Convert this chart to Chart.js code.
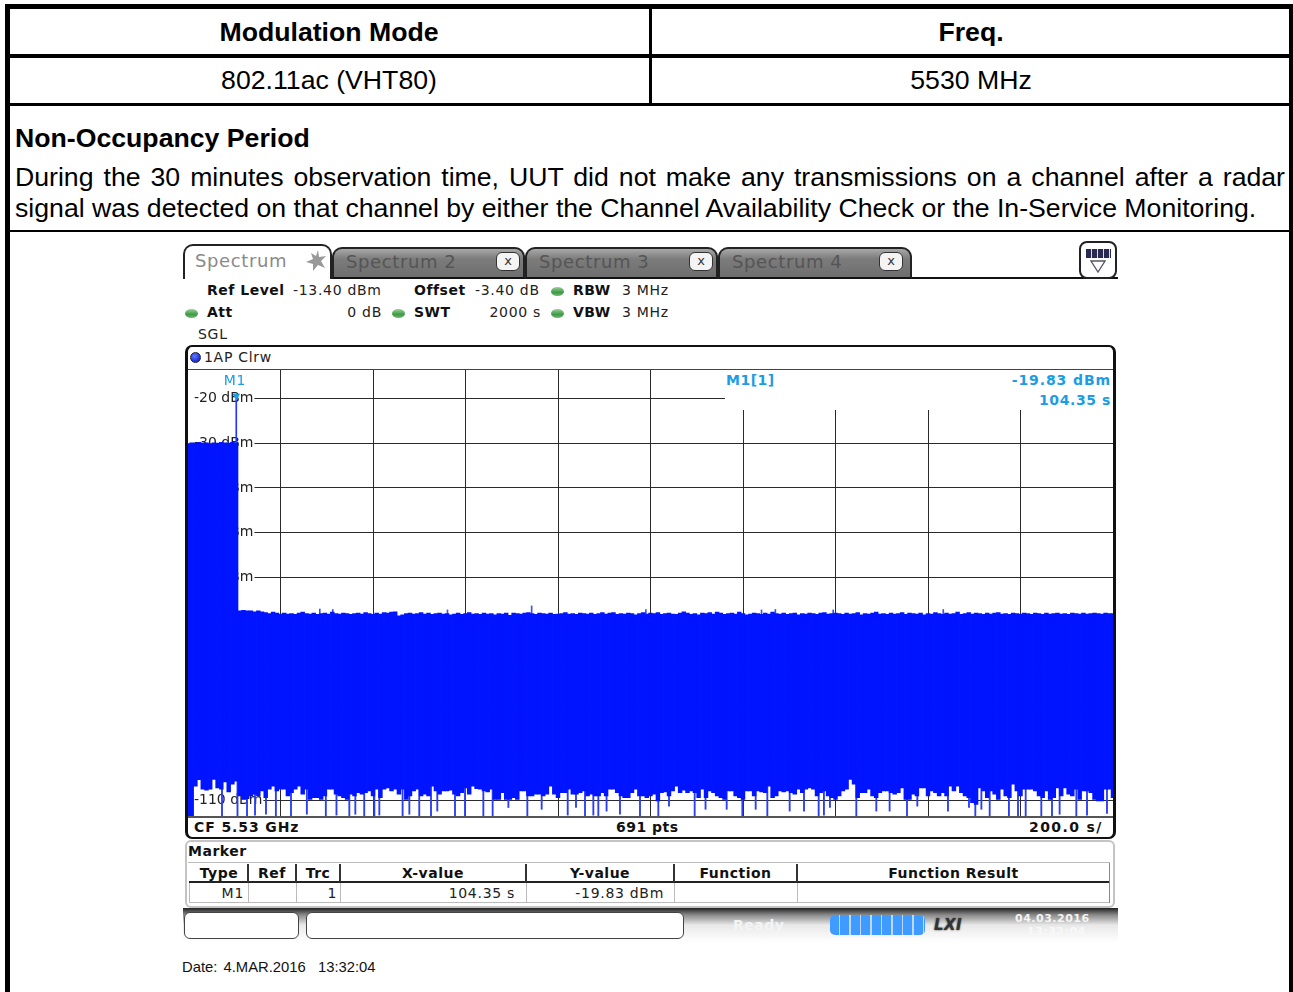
<!DOCTYPE html>
<html>
<head>
<meta charset="utf-8">
<title>Non-Occupancy Period</title>
<script src="https://cdn.jsdelivr.net/npm/chart.js@4/dist/chart.umd.min.js"></script>
<style>
html, body { margin: 0; padding: 0; background: #fff; }
body { position: relative; width: 1293px; height: 992px; overflow: hidden; font-family: "Liberation Sans", Arial, sans-serif; color: #000; }
.box { position: absolute; box-sizing: border-box; }
.t { position: absolute; white-space: nowrap; line-height: 20px; height: 20px; font-family: "DejaVu Sans", sans-serif; font-size: 14px; letter-spacing: 0.7px; color: #222; }
.b { font-weight: bold; color: #111; letter-spacing: 0.5px; }
.r { text-align: right; }
.c { text-align: center; }
.cell { position: absolute; font-size: 26.67px; line-height: 30px; height: 30px; text-align: center; white-space: nowrap; }
.para { position: absolute; left: 15px; width: 1270px; font-size: 26.67px; line-height: 31px; text-align: justify; text-align-last: justify; white-space: normal; }
.tab { position: absolute; top: 247px; height: 32px; box-sizing: border-box; border: 2px solid #222; border-bottom: 2px solid #111; border-radius: 10px 10px 0 0; background: linear-gradient(#a8a8a8, #7c7c7c 35%, #6e6e6e); }
.tabtxt { position: absolute; top: 252px; font-family: "DejaVu Sans", sans-serif; font-size: 18px; letter-spacing: 0.6px; line-height: 20px; color: #555; white-space: nowrap; }
.x { position: absolute; top: 252px; width: 24px; height: 19px; box-sizing: border-box; border-radius: 6px; background: #f4f4f4; border: 1px solid #333; font-family: "DejaVu Sans", sans-serif; font-size: 13px; line-height: 16px; text-align: center; color: #333; }
.dot { position: absolute; width: 13px; height: 9px; border-radius: 50%; background: linear-gradient(#9cd09c, #3f9a45 60%, #6fb872); }
.vs { position: absolute; width: 2px; background: #333; }
.vg { position: absolute; width: 1px; background: #bbb; }
</style>
</head>
<body>

<!-- page frame and top table -->
<div class="box" style="left:5px;top:4px;width:1288px;height:1000px;border:solid #000;border-width:5px 4px 0 5px;"></div>
<div class="box" style="left:10px;top:54px;width:1280px;height:4px;background:#000;"></div>
<div class="box" style="left:10px;top:103px;width:1280px;height:3px;background:#000;"></div>
<div class="box" style="left:649px;top:9px;width:3px;height:95px;background:#000;"></div>
<div class="box" style="left:10px;top:230px;width:1280px;height:2px;background:#000;"></div>
<div class="cell" style="left:9px;width:640px;top:17px;font-weight:bold;">Modulation Mode</div>
<div class="cell" style="left:651px;width:640px;top:17px;font-weight:bold;">Freq.</div>
<div class="cell" style="left:9px;width:640px;top:65px;">802.11ac (VHT80)</div>
<div class="cell" style="left:651px;width:640px;top:65px;">5530 MHz</div>
<div class="para" style="top:123px;font-weight:bold;text-align-last:left;">Non-Occupancy Period</div>
<div class="para" style="top:162px;">During the 30 minutes observation time, UUT did not make any transmissions on a channel after a radar</div>
<div class="para" style="top:193px;text-align-last:left;">signal was detected on that channel by either the Channel Availability Check or the In-Service Monitoring.</div>

<!-- instrument tabs -->
<div class="box" style="left:183px;top:277px;width:935px;height:2px;background:#111;"></div>
<div class="box" style="left:183px;top:244px;width:149px;height:35px;background:#fff;border:2px solid #222;border-bottom:none;border-radius:10px 10px 0 0;"></div>
<div class="tabtxt" style="left:195px;top:251px;color:#8a8a8a;">Spectrum</div>
<svg class="box" style="left:303px;top:249px;" width="24" height="24" viewBox="0 0 24 24"><polygon points="15,1 16,8 23,7 18,12 22,19 15,16 10,22 10,15 3,13 10,10 8,4 13,7" fill="#999"/></svg>
<div class="tab" style="left:332px;width:193px;"></div>
<div class="tab" style="left:525px;width:193px;"></div>
<div class="tab" style="left:718px;width:194px;"></div>
<div class="tabtxt" style="left:346px;">Spectrum 2</div>
<div class="tabtxt" style="left:539px;">Spectrum 3</div>
<div class="tabtxt" style="left:732px;">Spectrum 4</div>
<div class="x" style="left:496px;">x</div>
<div class="x" style="left:689px;">x</div>
<div class="x" style="left:879px;">x</div>
<div class="box" style="left:1079px;top:241px;width:38px;height:38px;border:2px solid #222;border-radius:8px;background:#fff;"></div>
<div class="box" style="left:1086px;top:249px;width:25px;height:9px;background:repeating-linear-gradient(90deg,#2a2a50 0,#2a2a50 5px,#ddd 5px,#ddd 6px);"></div>
<svg class="box" style="left:1090px;top:260px;" width="16" height="13" viewBox="0 0 16 13"><polygon points="1,1 15,1 8,12" fill="#fff" stroke="#556" stroke-width="1.3"/></svg>

<!-- settings header -->
<div class="t b" style="left:207px;top:280px;">Ref Level</div>
<div class="t" style="left:293px;top:280px;">-13.40 dBm</div>
<div class="t b" style="left:414px;top:280px;">Offset</div>
<div class="t" style="left:475px;top:280px;">-3.40 dB</div>
<div class="dot" style="left:551px;top:287px;"></div>
<div class="t b" style="left:573px;top:280px;">RBW</div>
<div class="t" style="left:622px;top:280px;">3 MHz</div>
<div class="dot" style="left:185px;top:309px;"></div>
<div class="t b" style="left:207px;top:302px;">Att</div>
<div class="t r" style="left:300px;width:82px;top:302px;">0 dB</div>
<div class="dot" style="left:392px;top:309px;"></div>
<div class="t b" style="left:414px;top:302px;">SWT</div>
<div class="t r" style="left:460px;width:81px;top:302px;">2000 s</div>
<div class="dot" style="left:551px;top:309px;"></div>
<div class="t b" style="left:573px;top:302px;">VBW</div>
<div class="t" style="left:622px;top:302px;">3 MHz</div>
<div class="t" style="left:198px;top:324px;">SGL</div>

<!-- plot panel -->
<div class="box" style="left:185px;top:345px;width:931px;height:494px;border:2px solid #111;border-left-width:3px;border-right-width:3px;border-radius:7px;background:#fff;"></div>
<div class="box" style="left:190px;top:352px;width:11px;height:11px;border-radius:50%;background:radial-gradient(circle at 40% 35%,#6078ff,#1a2cd8 70%);border:1px solid #223;"></div>
<div class="t" style="left:204px;top:347px;">1AP Clrw</div>
<canvas id="trace" width="925" height="447" style="position:absolute;left:188px;top:369px;"></canvas>
<div class="box" style="left:188px;top:369px;width:925px;height:1px;background:#444;"></div>
<div class="box" style="left:188px;top:816px;width:925px;height:2px;background:#555;"></div>
<div class="box" style="left:725px;top:370px;width:388px;height:40px;background:#fff;"></div>
<div class="t c" style="left:215px;width:40px;top:370px;color:#1c9ce6;">M1</div>
<div class="t b" style="left:726px;top:370px;color:#1c9ce6;">M1[1]</div>
<div class="t b r" style="left:960px;width:151px;top:370px;color:#1c9ce6;letter-spacing:0.9px;">-19.83 dBm</div>
<div class="t b r" style="left:960px;width:151px;top:390px;color:#1c9ce6;letter-spacing:0.6px;">104.35 s</div>
<div class="t b" style="left:194px;top:817px;letter-spacing:0.9px;">CF 5.53 GHz</div>
<div class="t b" style="left:616px;top:817px;">691 pts</div>
<div class="t b" style="left:1029px;top:817px;letter-spacing:1.4px;">200.0 s/</div>

<!-- marker table -->
<div class="box" style="left:185px;top:840px;width:930px;height:68px;border:2px solid #c4c4c4;border-radius:6px;background:#fff;"></div>
<div class="t b" style="left:188px;top:841px;">Marker</div>
<div class="box" style="left:188px;top:862px;width:922px;height:1px;background:#bbb;"></div>
<div class="box" style="left:189px;top:881px;width:921px;height:2px;background:#222;"></div>
<div class="box" style="left:189px;top:902px;width:921px;height:1px;background:#bbb;"></div>
<div class="box" style="left:189px;top:883px;width:1px;height:20px;background:#bbb;"></div>
<div class="box" style="left:1109px;top:863px;width:1px;height:40px;background:#888;"></div>
<div class="vs" style="left:247px;top:864px;height:18px;"></div>
<div class="vs" style="left:295px;top:864px;height:18px;"></div>
<div class="vs" style="left:339px;top:864px;height:18px;"></div>
<div class="vs" style="left:525px;top:864px;height:18px;"></div>
<div class="vs" style="left:673px;top:864px;height:18px;"></div>
<div class="vs" style="left:796px;top:864px;height:18px;"></div>
<div class="vg" style="left:248px;top:883px;height:19px;"></div>
<div class="vg" style="left:296px;top:883px;height:19px;"></div>
<div class="vg" style="left:340px;top:883px;height:19px;"></div>
<div class="vg" style="left:526px;top:883px;height:19px;"></div>
<div class="vg" style="left:674px;top:883px;height:19px;"></div>
<div class="vg" style="left:797px;top:883px;height:19px;"></div>
<div class="t b c" style="left:190px;width:58px;top:863px;">Type</div>
<div class="t b c" style="left:248px;width:48px;top:863px;">Ref</div>
<div class="t b c" style="left:296px;width:44px;top:863px;">Trc</div>
<div class="t b c" style="left:340px;width:186px;top:863px;">X-value</div>
<div class="t b c" style="left:526px;width:148px;top:863px;">Y-value</div>
<div class="t b c" style="left:674px;width:123px;top:863px;">Function</div>
<div class="t b c" style="left:797px;width:313px;top:863px;">Function Result</div>
<div class="t r" style="left:190px;width:54px;top:883px;">M1</div>
<div class="t r" style="left:296px;width:41px;top:883px;">1</div>
<div class="t r" style="left:340px;width:175px;top:883px;">104.35 s</div>
<div class="t r" style="left:526px;width:138px;top:883px;">-19.83 dBm</div>

<!-- status bar -->
<div class="box" style="left:183px;top:908px;width:935px;height:34px;background:linear-gradient(#222,#888 20%,#e8e8e8 50%,#fff);"></div>
<div class="box" style="left:184px;top:912px;width:115px;height:27px;background:#fff;border:1px solid #444;border-radius:6px;"></div>
<div class="box" style="left:306px;top:912px;width:378px;height:27px;background:#fff;border:1px solid #444;border-radius:6px;"></div>
<div class="t b" style="left:733px;top:915px;color:#f4f4f4;">Ready</div>
<div class="box" style="left:830px;top:915px;width:95px;height:20px;border-radius:5px;background:repeating-linear-gradient(90deg,#3f9bff 0,#3f9bff 9px,#bcd9ff 9px,#bcd9ff 10.5px);"></div>
<div class="t b" style="left:934px;top:915px;font-style:italic;font-size:15px;color:#333;text-shadow:0 0 2px #333;">LXI</div>
<div class="t b" style="left:1015px;top:909px;font-size:11px;color:#f4f4f4;">04.03.2016</div>
<div class="t b" style="left:1027px;top:922px;font-size:11px;color:#f8f8f8;">13:32:04</div>
<div class="t" style="left:182px;top:957px;font-family:'Liberation Sans',Arial,sans-serif;font-size:14.8px;letter-spacing:0;word-spacing:2px;color:#111;">Date: 4.MAR.2016&nbsp; 13:32:04</div>

<script>
// sweep samples: time (s), lower and upper end of the trace swing (dBm)
const traceTimes = [
    0, 8, 16, 24, 32, 40, 48, 56, 64, 72, 80, 88, 96, 104, 112, 120, 128, 136, 144, 152,
    160, 168, 176, 184, 192, 200, 208, 216, 224, 232, 240, 248, 256, 264, 272, 280, 288, 296, 304, 312,
    320, 328, 336, 344, 352, 360, 368, 376, 384, 392, 400, 408, 416, 424, 432, 440, 448, 456, 464, 472,
    480, 488, 496, 504, 512, 520, 528, 536, 544, 552, 560, 568, 576, 584, 592, 600, 608, 616, 624, 632,
    640, 648, 656, 664, 672, 680, 688, 696, 704, 712, 720, 728, 736, 744, 752, 760, 768, 776, 784, 792,
    800, 808, 816, 824, 832, 840, 848, 856, 864, 872, 880, 888, 896, 904, 912, 920, 928, 936, 944, 952,
    960, 968, 976, 984, 992, 1000, 1008, 1016, 1024, 1032, 1040, 1048, 1056, 1064, 1072, 1080, 1088, 1096, 1104, 1112,
    1120, 1128, 1136, 1144, 1152, 1160, 1168, 1176, 1184, 1192, 1200, 1208, 1216, 1224, 1232, 1240, 1248, 1256, 1264, 1272,
    1280, 1288, 1296, 1304, 1312, 1320, 1328, 1336, 1344, 1352, 1360, 1368, 1376, 1384, 1392, 1400, 1408, 1416, 1424, 1432,
    1440, 1448, 1456, 1464, 1472, 1480, 1488, 1496, 1504, 1512, 1520, 1528, 1536, 1544, 1552, 1560, 1568, 1576, 1584, 1592,
    1600, 1608, 1616, 1624, 1632, 1640, 1648, 1656, 1664, 1672, 1680, 1688, 1696, 1704, 1712, 1720, 1728, 1736, 1744, 1752,
    1760, 1768, 1776, 1784, 1792, 1800, 1808, 1816, 1824, 1832, 1840, 1848, 1856, 1864, 1872, 1880, 1888, 1896, 1904, 1912,
    1920, 1928, 1936, 1944, 1952, 1960, 1968, 1976, 1984, 1992, 2000
];
const traceHigh = [
    -30.1, -29.9, -30.0, -29.8, -30.0, -29.9, -30.1, -29.9, -30.0, -29.8,
    -29.9, -30.0, -29.8, -29.9, -67.5, -67.4, -67.5, -67.5, -67.7, -67.5,
    -67.7, -67.9, -68.1, -67.8, -68.0, -68.2, -68.0, -68.2, -68.1, -68.3,
    -68.0, -67.8, -68.1, -68.2, -68.0, -68.3, -68.1, -68.0, -68.2, -67.8,
    -68.1, -68.2, -68.0, -68.1, -68.3, -68.1, -68.0, -68.2, -67.9, -68.1,
    -68.3, -68.0, -68.2, -67.9, -68.0, -67.8, -67.7, -68.6, -68.4, -68.1,
    -68.0, -68.2, -68.1, -67.9, -68.2, -68.0, -68.3, -68.1, -68.0, -68.2,
    -68.1, -68.4, -68.2, -68.0, -68.3, -68.1, -67.9, -68.2, -68.1, -68.3,
    -68.0, -68.2, -68.1, -68.4, -68.1, -68.2, -68.0, -68.5, -68.0, -68.1,
    -68.2, -68.0, -67.9, -68.1, -68.3, -68.0, -68.1, -68.2, -68.0, -68.3,
    -68.2, -68.1, -67.9, -68.2, -68.1, -68.3, -68.0, -68.1, -68.2, -68.0,
    -68.3, -68.1, -67.9, -68.2, -68.0, -67.9, -68.3, -68.1, -68.2, -68.0,
    -68.1, -68.4, -68.1, -67.9, -68.2, -68.0, -68.1, -67.9, -68.3, -68.1,
    -68.0, -68.2, -68.3, -68.0, -67.7, -68.0, -68.3, -68.1, -68.4, -68.0,
    -68.1, -67.9, -68.2, -67.8, -68.0, -68.3, -68.1, -68.0, -68.2, -67.8,
    -68.1, -68.4, -68.2, -68.0, -68.1, -68.3, -68.0, -68.2, -67.8, -68.1,
    -68.2, -68.0, -68.3, -68.1, -68.0, -68.4, -68.1, -68.2, -68.0, -68.1,
    -68.3, -68.0, -67.9, -68.2, -68.1, -68.0, -68.1, -68.3, -68.0, -68.2,
    -68.1, -67.9, -68.4, -68.1, -68.2, -68.0, -67.8, -68.2, -68.1, -68.3,
    -68.0, -68.2, -68.1, -67.9, -68.3, -68.0, -68.1, -68.2, -68.0, -68.4,
    -68.1, -68.2, -67.9, -68.1, -68.3, -68.0, -68.2, -68.1, -67.8, -68.3,
    -68.1, -67.9, -68.2, -68.0, -68.1, -68.3, -68.0, -68.2, -68.0, -67.9,
    -68.2, -68.1, -68.3, -68.0, -68.1, -68.2, -68.0, -68.1, -68.3, -68.0,
    -68.1, -68.3, -68.0, -68.2, -68.1, -68.0, -68.2, -68.1, -68.3, -68.0,
    -68.1, -68.2, -68.0, -68.2, -68.1, -68.0, -68.1, -68.2, -68.0, -68.1,
    -68.1
];
const traceLow = [
    -113.4, -113.4, -106.7, -105.3, -107.4, -107.6, -107.4, -105.2, -107.1, -107.4,
    -105.8, -108.0, -106.3, -105.6, -108.9, -109.7, -109.5, -108.9, -108.5, -108.9,
    -107.8, -109.3, -107.4, -106.7, -107.8, -107.4, -107.4, -108.9, -108.2, -107.4,
    -106.7, -108.5, -107.4, -109.7, -109.3, -109.3, -109.7, -108.9, -107.4, -107.4,
    -108.5, -108.9, -109.3, -109.7, -108.5, -108.9, -108.2, -108.5, -108.2, -107.8,
    -108.9, -107.4, -109.3, -107.4, -107.1, -107.8, -107.4, -108.5, -107.4, -109.7,
    -108.9, -107.8, -107.4, -108.9,
    -108.5, -108.9, -106.7, -107.8, -108.5, -107.8, -107.8, -107.6, -108.5, -108.9,
    -108.2, -107.1, -108.5, -106.7, -107.3, -107.4, -107.8, -108.0, -107.4, -109.7,
    -109.7, -108.2, -109.7, -109.7, -109.3, -109.7, -107.8, -107.8, -108.9, -108.9,
    -108.5, -108.5, -108.9, -108.5, -106.7, -108.5, -109.3, -108.2, -108.2, -107.4,
    -108.5, -108.5, -108.2, -107.8, -108.9, -108.5, -108.9, -108.9, -108.2, -108.9,
    -107.4, -107.4, -108.2, -108.9, -109.3, -109.3, -108.2, -107.4, -108.9, -108.9,
    -109.3, -108.9, -108.5,
    -110.0, -108.2, -108.0, -108.9, -107.8, -106.7, -108.2, -107.6, -108.2, -107.8,
    -108.2, -109.3, -107.4, -109.3, -107.8, -108.2, -108.9, -109.3, -109.7, -107.8,
    -107.8, -108.9, -109.3, -109.7, -107.8, -107.8, -108.9, -107.8, -108.0, -108.2,
    -106.7, -109.3, -108.9, -107.8, -108.0, -107.8, -108.2, -108.5, -107.4, -108.2,
    -107.4, -107.1, -107.4, -108.9, -108.2, -107.8, -108.9, -109.3, -109.7, -108.9,
    -107.8, -107.4, -105.2, -106.3, -109.3, -108.2, -108.2, -107.4, -108.9, -109.3,
    -108.2, -107.8, -107.8, -108.2,
    -108.5, -108.2, -107.1, -109.7, -109.7, -108.5, -108.9, -107.1, -107.1, -108.9,
    -107.8, -108.2, -108.9, -108.2, -108.9, -106.7, -107.8, -106.7, -108.2, -108.9,
    -109.3, -110.4, -110.8, -107.1, -107.8, -109.3, -107.8, -108.5, -109.7, -107.4,
    -108.9, -109.3, -106.3, -107.8, -108.9, -107.4, -107.4, -107.4, -107.8, -108.9,
    -109.3, -107.8, -109.7, -109.3, -107.1, -108.9, -107.1, -108.5, -108.9, -107.4,
    -109.7, -107.8, -107.8, -108.2, -109.7, -110.0, -110.0, -107.4, -107.4, -109.3
];

// single narrow dips of the trace below the solid band
const dipTimes = [
    73.5, 107, 127.6, 144.9, 168.6, 190, 222.7, 257, 298, 321, 348.8, 361.8, 381, 402.9, 413.7, 464, 478.6, 500,
    525.4, 539, 577.3, 598.9, 638.6, 658.7, 692.7, 733.7, 764.7, 821, 838.9, 858.4, 876.4, 887.2, 905, 934, 977.3,
    1016.9, 1040, 1095.5, 1119, 1164.7, 1198.6, 1227.4, 1252.6, 1300.9, 1331.9, 1363.6, 1375, 1388, 1445, 1488.2,
    1517, 1554.6, 1576.9, 1643.2, 1688.6, 1702.3, 1715.4, 1733.4, 1775, 1794.6, 1811.2, 1845, 1868.1, 1884.6, 1920.7, 1943.8, 1987
];
const dipLevels = [
    -113.4, -113.4, -113.4, -113.2, -113.0, -113.4, -113.4, -113.0, -113.4, -113.2, -113.4, -113.0, -113.4, -113.4, -113.2, -113.4, -113.0, -113.4,
    -113.4, -112.3, -113.4, -113.4, -113.4, -113.4, -111.5, -113.4, -111.9, -113.2, -111.5, -113.4, -113.2, -113.4, -112.3, -113.0, -113.4,
    -113.4, -111.2, -113.4, -111.9, -111.9, -113.4, -111.9, -113.4, -112.3, -112.3, -113.4, -113.2, -111.5, -113.4, -112.3,
    -112.3, -113.4, -111.2, -112.3, -111.5, -113.4, -111.9, -113.4, -113.4, -113.4, -113.4, -113.4, -113.4, -113.0, -113.4, -113.2, -112.8
];

// single narrow peaks above the noise band
const peakTimes = [285, 313, 561, 743, 990, 1240, 1270, 1395, 1633];
const peakLevels = [-67.1, -67.2, -67.3, -66.4, -67.2, -67.3, -67.2, -67.3, -67.2];

const markerTimes = [104.35];
const markerLevels = [-19.83];
const markerBase = [-29.8];

const gridTimes = [200, 400, 600, 800, 1000, 1200, 1400, 1600, 1800];
const yTicks = [-20, -30, -40, -50, -60, -70, -80, -90, -100, -110];
const yLabels = ['-20 dBm', '-30 dBm', '-40 dBm', '-50 dBm', '-60 dBm', '-70 dBm', '-80 dBm', '-90 dBm', '-100 dBm', '-110 dBm'];

const traceColor = '#0014ff';
const gridColor = '#2a2a2a';

// the plot fills the canvas edge to edge, so drop the padding the scales ask for
function fillCanvas(scale) {
    scale.paddingTop = 0;
    scale.paddingBottom = 0;
    scale.paddingLeft = 0;
    scale.paddingRight = 0;
    if (scale.axis === 'y') {
        scale.width = 0;
    } else {
        scale.height = 0;
    }
}

new Chart(document.getElementById('trace').getContext('2d'), {
    type: 'bar',
    data: {
        datasets: [
            {
                type: 'scatter',
                label: 'M1',
                data: markerTimes.map((t, i) => ({ x: t, y: markerLevels[i] + 0.4 })),
                pointStyle: 'triangle',
                rotation: 180,
                pointRadius: 4.5,
                pointBorderWidth: 0,
                backgroundColor: '#1c9ce6',
                order: 1
            },
            {
                label: 'Trace',
                data: traceTimes.map((t, i) => ({ x: t, y: [traceLow[i], traceHigh[i]] })),
                backgroundColor: traceColor,
                barThickness: 3.8,
                order: 2
            },
            {
                label: 'Dips',
                data: dipTimes.map((t, i) => ({ x: t, y: [dipLevels[i], -104] })),
                backgroundColor: '#2a3ef4',
                barThickness: 1.2,
                order: 3
            },
            {
                label: 'Peaks',
                data: peakTimes.map((t, i) => ({ x: t, y: [-69, peakLevels[i]] })),
                backgroundColor: '#3a50f8',
                barThickness: 1,
                order: 3
            },
            {
                label: 'Marker line',
                data: markerTimes.map((t, i) => ({ x: t, y: [markerBase[i], markerLevels[i]] })),
                backgroundColor: '#2038ff',
                barThickness: 1,
                order: 3
            }
        ]
    },
    options: {
        responsive: false,
        animation: false,
        events: [],
        grouped: false,
        layout: { padding: 0, autoPadding: false },
        plugins: {
            legend: { display: false },
            tooltip: { enabled: false }
        },
        scales: {
            x: {
                type: 'linear',
                min: 0,
                max: 2000,
                offset: false,
                grid: { offset: false, color: gridColor, lineWidth: 1, drawTicks: false },
                border: { display: false },
                ticks: { display: false },
                afterBuildTicks: (scale) => { scale.ticks = gridTimes.map(value => ({ value })); },
                afterFit: fillCanvas
            },
            y: {
                min: -113.4,
                max: -13.4,
                grid: { color: gridColor, lineWidth: 1, drawTicks: false },
                border: { display: false },
                afterBuildTicks: (scale) => { scale.ticks = yTicks.map(value => ({ value })); },
                afterFit: fillCanvas,
                ticks: {
                    mirror: true,
                    padding: 6,
                    color: '#222',
                    font: { family: '"DejaVu Sans"', size: 14 },
                    showLabelBackdrop: true,
                    backdropColor: '#fff',
                    backdropPadding: { left: 6, right: 1, top: 0, bottom: 0 },
                    callback: (value) => yLabels[yTicks.indexOf(value)]
                }
            }
        }
    }
});
</script>
</body>
</html>
